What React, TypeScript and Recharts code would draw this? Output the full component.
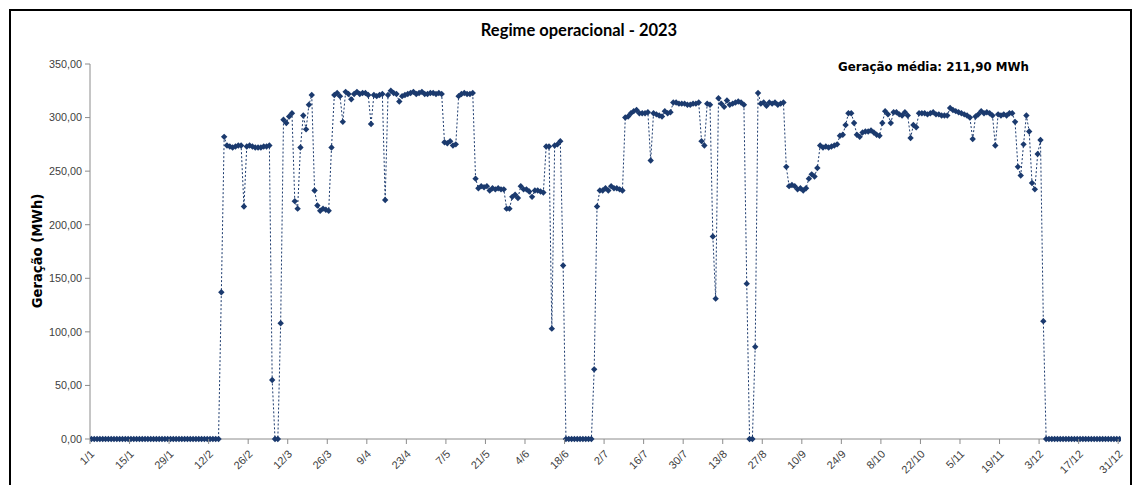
import React from 'react';
import { LineChart, Line, XAxis, YAxis } from 'recharts';

// Daily generation (MWh), 1/1 .. 31/12/2023 (365 days)
const generation: number[] = [
  0, 0, 0, 0, 0, 0, 0, 0, 0, 0, 0, 0, 0, 0, 0, 0, 0, 0, 0, 0,
  0, 0, 0, 0, 0, 0, 0, 0, 0, 0, 0, 0, 0, 0, 0, 0, 0, 0, 0, 0,
  0, 0, 0, 0, 0, 0,
  137,
  282, 274, 273, 272, 273, 274, 274, 217, 273, 274, 273, 272, 272, 272, 273, 273, 274,
  55, 0, 0, 108,
  298, 295, 301, 304, 222, 215, 272, 302, 289, 312, 321,
  232, 218, 213, 215, 214, 213, 272,
  321, 323, 320, 296, 324, 322, 317, 322, 324, 322, 323, 323, 321, 294,
  321, 320, 321, 322, 223, 321, 325, 323, 322, 315, 320, 321, 322,
  323, 324, 322, 323, 324, 322, 322, 323, 323, 322, 323, 322,
  277, 276, 278, 274, 275,
  320, 322, 323, 322, 322, 323,
  243, 234, 236, 235, 236, 232, 234, 233, 234, 233, 233, 215, 215,
  226, 228, 225, 236, 233, 233, 231, 226, 232, 232, 231, 230,
  273, 273, 103, 274, 275, 278, 162,
  0, 0, 0, 0, 0, 0, 0, 0, 0, 0,
  65,
  217, 232, 232, 234, 232, 236, 234, 234, 233, 232,
  300, 301, 304, 306, 307, 304, 304, 304, 305, 260, 304, 303, 302, 301, 306, 304, 305,
  314, 314, 313, 313, 313, 312, 312, 313, 313, 314,
  278, 274, 313, 312, 189, 131,
  318, 313, 310, 316, 312, 313, 314, 315, 314, 312,
  145, 0, 0, 86,
  323, 313, 314, 311, 314, 313, 314, 312, 313, 314,
  254,
  236, 237, 236, 233, 234, 232, 234, 243, 247, 245, 253,
  274, 272, 273, 272, 273, 274, 275, 283, 284, 293, 304, 304,
  295, 284, 282, 286, 287, 287, 288, 286, 284, 283,
  295, 306, 303, 295, 305, 305, 303, 302, 305, 302,
  281, 293, 291, 304, 304, 304, 303, 304, 305, 303,
  303, 302, 302, 302, 309, 307, 306, 305, 304, 303,
  302, 300, 280, 301, 303, 306, 304, 305, 304, 302,
  274, 303, 302, 303, 302, 304, 304, 296, 254, 246,
  275, 302, 287, 239, 233, 266, 279, 110,
  0, 0, 0, 0, 0, 0, 0, 0, 0, 0, 0, 0, 0, 0, 0, 0, 0, 0, 0, 0,
  0, 0, 0, 0, 0, 0, 0,
];

const tickLabels: string[] = [
  '1/1', '15/1', '29/1', '12/2', '26/2', '12/3', '26/3', '9/4', '23/4', '7/5',
  '21/5', '4/6', '18/6', '2/7', '16/7', '30/7', '13/8', '27/8', '10/9', '24/9',
  '8/10', '22/10', '5/11', '19/11', '3/12', '17/12', '31/12',
];
const tickDays: number[] = tickLabels.map((_, i) => i * 14);
const yTicks: number[] = [0, 50, 100, 150, 200, 250, 300, 350];

const TITLE = 'Regime operacional - 2023';
const AVG_TEXT = 'Geração média: 211,90 MWh';
const Y_LABEL = 'Geração (MWh)';

const data = generation.map((v, i) => ({ day: i, value: v }));

const W = 1134;
const H = 485;
const PLOT_LEFT = 90;
const PLOT_RIGHT = 1121;
const PLOT_TOP = 64;
const PLOT_BOTTOM = 439;
const DAY_W = (PLOT_RIGHT - PLOT_LEFT) / generation.length;
const BLUE = '#1B3A6E';
const AXIS = '#8C8C8C';
const TICK_TXT = '#404040';
const TICK_FONT = 'Liberation Sans, Arial, sans-serif';

const XTick = (props: any) => {
  const { x, payload } = props;
  const label = tickLabels[tickDays.indexOf(payload.value)] ?? '';
  const bx = x - DAY_W / 2;
  const ax = x + 1;
  const ay = PLOT_BOTTOM + 13;
  return (
    <g>
      <line x1={bx} x2={bx} y1={PLOT_BOTTOM} y2={PLOT_BOTTOM + 5} stroke={AXIS} strokeWidth={1} />
      <text
        x={ax}
        y={ay}
        textAnchor="end"
        dy="0.35em"
        transform={`rotate(-45, ${ax}, ${ay})`}
        fontSize={11}
        fill={TICK_TXT}
        fontFamily={TICK_FONT}
      >
        {label}
      </text>
    </g>
  );
};

const Diamond = (props: any) => {
  const { cx, cy, index } = props;
  if (cx == null || cy == null) return <g key={index} />;
  const r = 3.2;
  return (
    <path
      key={index}
      d={`M${cx},${cy - r} L${cx + r},${cy} L${cx},${cy + r} L${cx - r},${cy} Z`}
      fill={BLUE}
      stroke="none"
    />
  );
};

export default function App() {
  return (
    <div
      style={{
        position: 'absolute',
        left: 0,
        top: 0,
        width: W,
        height: H,
        background: '#fff',
        overflow: 'hidden',
      }}
    >
      <div
        style={{
          position: 'absolute',
          left: 9,
          top: 9,
          width: 1123,
          height: 520,
          border: '2px solid #000',
          boxSizing: 'border-box',
        }}
      />
      <div
        style={{
          position: 'absolute',
          left: 0,
          width: 1158,
          top: 20,
          textAlign: 'center',
          fontFamily: 'Lato, sans-serif',
          fontWeight: 700,
          fontSize: 16.5,
          color: '#000',
        }}
      >
        {TITLE}
      </div>
      <div
        style={{
          position: 'absolute',
          left: 838,
          top: 60,
          fontFamily: 'DejaVu Sans, sans-serif',
          fontWeight: 700,
          fontSize: 11.8,
          color: '#000',
          whiteSpace: 'nowrap',
        }}
      >
        {AVG_TEXT}
      </div>
      <div
        style={{
          position: 'absolute',
          left: 37,
          top: 251,
          transform: 'translate(-50%, -50%) rotate(-90deg)',
          fontFamily: 'DejaVu Sans, sans-serif',
          fontWeight: 700,
          fontSize: 13.2,
          color: '#000',
          whiteSpace: 'nowrap',
        }}
      >
        {Y_LABEL}
      </div>
      <div style={{ position: 'absolute', left: 0, top: 0 }}>
        <LineChart
          width={W}
          height={H}
          data={data}
          margin={{ top: PLOT_TOP, right: W - PLOT_RIGHT, left: 10, bottom: 0 }}
        >
          <XAxis
            dataKey="day"
            type="number"
            domain={[-0.5, generation.length - 0.5]}
            ticks={tickDays}
            interval={0}
            tick={<XTick />}
            tickLine={false}
            axisLine={{ stroke: AXIS, strokeWidth: 1 }}
            height={H - PLOT_BOTTOM}
            allowDataOverflow
          />
          <YAxis
            type="number"
            domain={[0, 350]}
            ticks={yTicks}
            interval={0}
            width={PLOT_LEFT - 10}
            tickFormatter={(v: number) => v.toFixed(2).replace('.', ',')}
            tick={{ fontSize: 10.8, fill: TICK_TXT, fontFamily: TICK_FONT }}
            tickSize={5}
            tickMargin={3}
            tickLine={{ stroke: AXIS }}
            axisLine={{ stroke: AXIS, strokeWidth: 1 }}
          />
          <Line
            type="linear"
            dataKey="value"
            stroke={BLUE}
            strokeWidth={1}
            strokeDasharray="2 2"
            dot={(p: any) => <Diamond key={p.index} {...p} />}
            activeDot={false}
            isAnimationActive={false}
          />
        </LineChart>
      </div>
    </div>
  );
}
